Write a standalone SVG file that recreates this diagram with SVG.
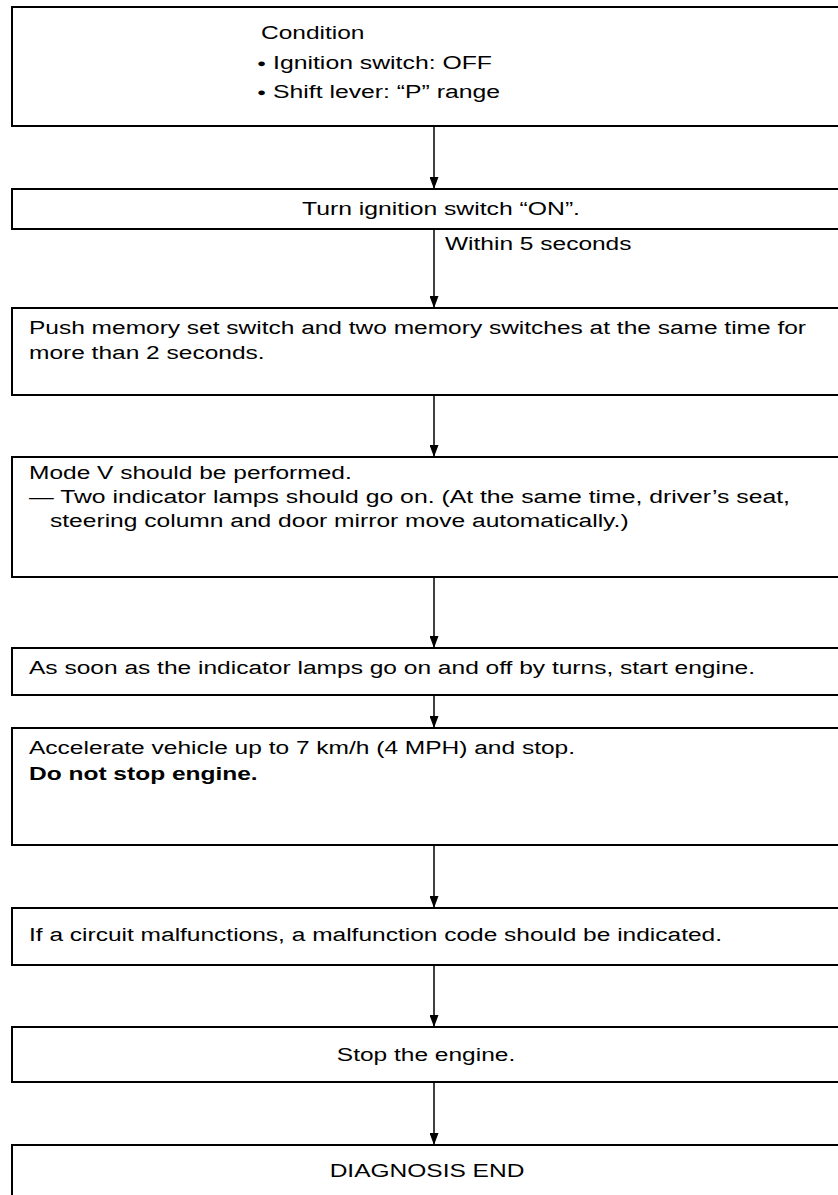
<svg xmlns="http://www.w3.org/2000/svg" width="838" height="1195" viewBox="0 0 838 1195">
  <defs>
    <style>
      .box { fill: #ffffff; stroke: #000000; stroke-width: 2; }
      .txt { font-family: "Liberation Sans", Arial, sans-serif; font-size: 18px; fill: #000000; }
      .mid { text-anchor: middle; }
      .bold { font-weight: bold; }
      .dot { font-size: 11px; }
      .flow { stroke: #000000; stroke-width: 1.5; fill: none; marker-end: url(#head); }
    </style>
    <!-- filled arrowhead, tip placed on the end of the line -->
    <marker id="head" viewBox="0 0 12 9" refX="12" refY="4.5" markerWidth="12" markerHeight="9" markerUnits="userSpaceOnUse" orient="auto">
      <path d="M0,0 L12,4.5 L0,9 Z" fill="#000000"/>
    </marker>
  </defs>
  <rect width="838" height="1195" fill="#ffffff"/>

  <!-- process steps (boxes run off the right edge of the sheet) -->
  <g id="step-condition">
    <rect class="box" x="12" y="7" width="840" height="119"/>
    <text class="txt" x="261" y="39" textLength="103.5" lengthAdjust="spacingAndGlyphs">Condition</text>
    <text class="txt" x="257" y="69" textLength="235" lengthAdjust="spacingAndGlyphs"><tspan class="dot" dy="-2">●</tspan><tspan dy="2"> Ignition switch: OFF</tspan></text>
    <text class="txt" x="257" y="98" textLength="243" lengthAdjust="spacingAndGlyphs"><tspan class="dot" dy="-2">●</tspan><tspan dy="2"> Shift lever: “P” range</tspan></text>
  </g>
  <g id="step-ignition-on">
    <rect class="box" x="12" y="189" width="840" height="40"/>
    <text class="txt mid" x="441" y="215" textLength="278" lengthAdjust="spacingAndGlyphs">Turn ignition switch “ON”.</text>
  </g>
  <g id="step-memory-switches">
    <rect class="box" x="12" y="308" width="840" height="87"/>
    <text class="txt" x="29" y="334" textLength="777" lengthAdjust="spacingAndGlyphs">Push memory set switch and two memory switches at the same time for</text>
    <text class="txt" x="29" y="359" textLength="235.6" lengthAdjust="spacingAndGlyphs">more than 2 seconds.</text>
  </g>
  <g id="step-mode-v">
    <rect class="box" x="12" y="457" width="840" height="120"/>
    <text class="txt" x="29" y="479" textLength="322.7" lengthAdjust="spacingAndGlyphs">Mode V should be performed.</text>
    <text class="txt" x="29" y="503" textLength="761" lengthAdjust="spacingAndGlyphs">— Two indicator lamps should go on. (At the same time, driver’s seat,</text>
    <text class="txt" x="50" y="527" textLength="578.6" lengthAdjust="spacingAndGlyphs">steering column and door mirror move automatically.)</text>
  </g>
  <g id="step-start-engine">
    <rect class="box" x="12" y="648" width="840" height="47"/>
    <text class="txt" x="29" y="674" textLength="726" lengthAdjust="spacingAndGlyphs">As soon as the indicator lamps go on and off by turns, start engine.</text>
  </g>
  <g id="step-accelerate">
    <rect class="box" x="12" y="728" width="840" height="117"/>
    <text class="txt" x="29" y="754" textLength="546" lengthAdjust="spacingAndGlyphs">Accelerate vehicle up to 7 km/h (4 MPH) and stop.</text>
    <text class="txt bold" x="29" y="780" textLength="228.7" lengthAdjust="spacingAndGlyphs">Do not stop engine.</text>
  </g>
  <g id="step-malfunction-code">
    <rect class="box" x="12" y="908" width="840" height="57"/>
    <text class="txt" x="29" y="941" textLength="693" lengthAdjust="spacingAndGlyphs">If a circuit malfunctions, a malfunction code should be indicated.</text>
  </g>
  <g id="step-stop-engine">
    <rect class="box" x="12" y="1027" width="840" height="55"/>
    <text class="txt mid" x="426" y="1061" textLength="178.4" lengthAdjust="spacingAndGlyphs">Stop the engine.</text>
  </g>
  <g id="step-end">
    <rect class="box" x="12" y="1145" width="840" height="80"/>
    <text class="txt mid" x="427" y="1177" textLength="194.7" lengthAdjust="spacingAndGlyphs">DIAGNOSIS END</text>
  </g>

  <!-- connectors -->
  <g id="connectors">
    <line class="flow" x1="434" y1="126" x2="434" y2="189"/>
    <line class="flow" x1="434" y1="229" x2="434" y2="308"/>
    <text class="txt" x="445" y="250" textLength="186.5" lengthAdjust="spacingAndGlyphs">Within 5 seconds</text>
    <line class="flow" x1="434" y1="395" x2="434" y2="457"/>
    <line class="flow" x1="434" y1="577" x2="434" y2="648"/>
    <line class="flow" x1="434" y1="695" x2="434" y2="728"/>
    <line class="flow" x1="434" y1="845" x2="434" y2="908"/>
    <line class="flow" x1="434" y1="965" x2="434" y2="1027"/>
    <line class="flow" x1="434" y1="1082" x2="434" y2="1145"/>
  </g>
</svg>
